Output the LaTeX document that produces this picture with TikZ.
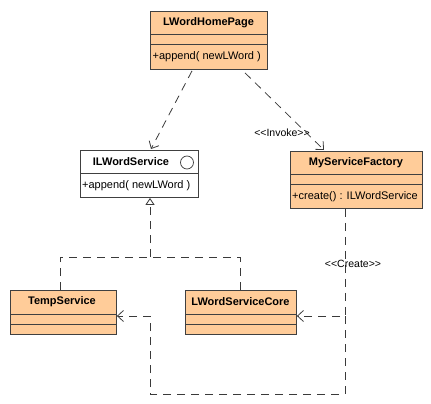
\documentclass[tikz,border=0pt]{standalone}
\usepackage{fontspec}
\setmainfont{Liberation Sans}
\usetikzlibrary{arrows.meta,calc}
\definecolor{peach}{HTML}{FFCC99}
\definecolor{edgec}{HTML}{404040}
\definecolor{linec}{HTML}{3A3A3A}
\begin{document}
\begin{tikzpicture}[x=1pt,y=-1pt,
  cls/.style={draw=edgec, fill=peach, line width=0.9pt, anchor=north west, inner sep=0pt},
  ifc/.style={cls, fill=white},
  div/.style={draw=edgec, line width=0.9pt},
  hdr/.style={font=\fontsize{11}{13}\selectfont\bfseries, inner sep=0pt},
  mth/.style={font=\fontsize{11}{13}\selectfont, anchor=west, inner sep=0pt},
  dep/.style={draw=linec, line width=0.8pt, dash pattern=on 8pt off 6pt, -{Straight Barb[length=6pt,width=11pt,line width=0.8pt]}},
  real/.style={draw=linec, line width=0.8pt, dash pattern=on 8pt off 6pt},
  realtip/.style={real, -{Triangle[open,length=7pt,width=9pt,fill=white,line width=0.8pt]}},
  lbl/.style={font=\fontsize{10.5}{12}\selectfont, inner sep=1pt}]
\useasboundingbox (0,0) rectangle (431,404);

% LWordHomePage
\node[cls, minimum width=117pt, minimum height=58pt] (hp) at (150,11) {};
\draw[div] (150,34) -- (267,34);
\draw[div] (150,44) -- (267,44);
\node[hdr] (hpt) at (208.5,23) {LWordHomePage};
\node[mth] (hpm) at (152.5,56.5) {+append( newLWord )};

% ILWordService
\node[ifc, minimum width=118pt, minimum height=47pt] (ils) at (80,150) {};
\draw[div] (80,173) -- (198,173);
\node[hdr] (ilst) at (131,162) {ILWordService};
\node[draw=edgec, line width=0.7pt, circle, minimum size=13pt, inner sep=0pt] (ilsc) at (187,162.5) {};
\node[mth] (ilsm) at (82,186) {+append( newLWord )};

% MyServiceFactory
\node[cls, minimum width=132pt, minimum height=57pt] (msf) at (290,151) {};
\draw[div] (290,174) -- (422,174);
\draw[div] (290,184) -- (422,184);
\node[hdr] (msft) at (356,163) {MyServiceFactory};
\node[mth] (msfm) at (292,196.5) {+create() : ILWordService};

% TempService
\node[cls, minimum width=106pt, minimum height=44pt] (ts) at (10,290) {};
\draw[div] (10,314) -- (116,314);
\draw[div] (10,324) -- (116,324);
\node[hdr] (tst) at (62,302) {TempService};

% LWordServiceCore
\node[cls, minimum width=111pt, minimum height=44pt] (lsc) at (185,290) {};
\draw[div] (185,314) -- (296,314);
\draw[div] (185,324) -- (296,324);
\node[hdr] (lsct) at (240.5,302) {LWordServiceCore};

% dependencies from LWordHomePage
\draw[dep] ($(hp.south west)+(42,1)$) -- ($(ils.north west)+(71,-1)$);
\draw[dep] ($(hp.south west)+(95,3)$) -- ($(msf.north west)+(34,-1)$);
\node[lbl] (inv) at (282,133) {<{}<Invoke>{}>};

% realization
\coordinate (j) at (150,257);
\draw[real] ($(ts.north west)+(50,0)$) |- (j) -| ($(lsc.north west)+(55,0)$);
\draw[realtip] (j) -- ($(ils.south west)+(70,0)$);

% create dependencies
\coordinate (c1) at (345,316);
\coordinate (c2) at (345,394);
\coordinate (c3) at (150,394);
\coordinate (c4) at (150,316);
\draw[dep] ($(msf.south west)+(55,0)$) -- (c1) -- ($(lsc.north east)+(0,26)$);
\draw[dep] (c1) -- (c2) -- (c3) -- (c4) -- ($(ts.north east)+(0,26)$);
\node[lbl] (cre) at (353,264) {<{}<Create>{}>};
\end{tikzpicture}
\end{document}
